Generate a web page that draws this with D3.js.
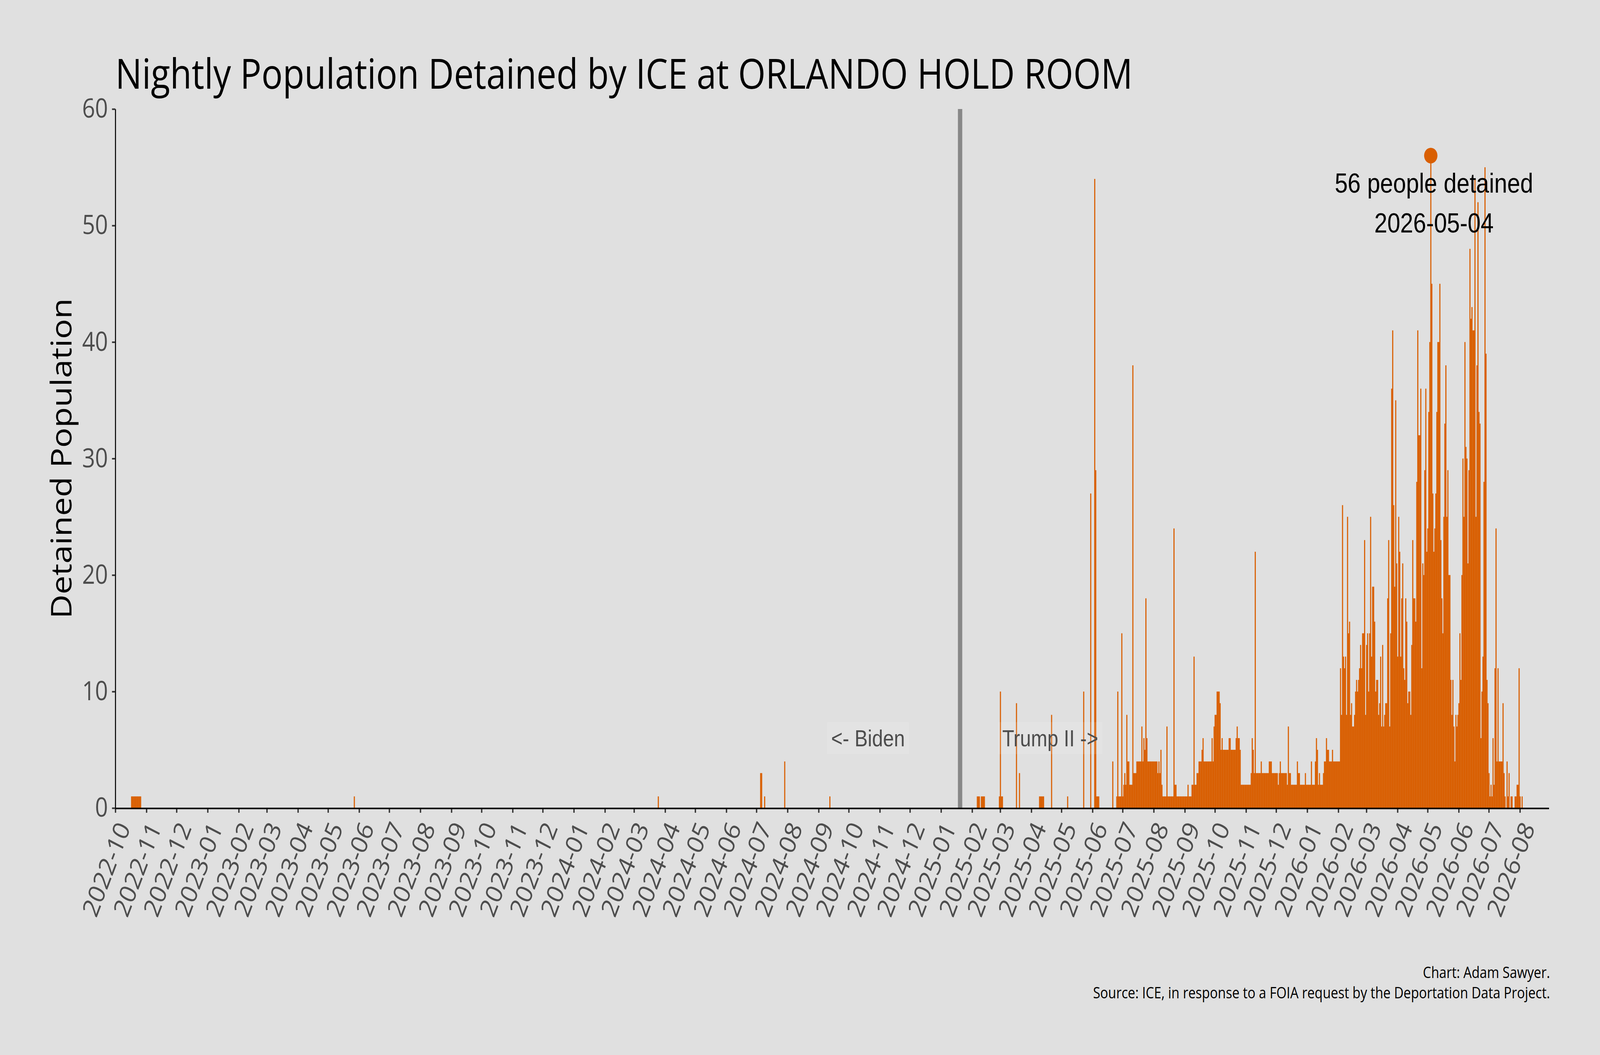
<!DOCTYPE html>
<html>
<head>
<meta charset="utf-8">
<script src="https://cdn.jsdelivr.net/npm/d3@7"></script>
<style>
  html, body { margin: 0; padding: 0; background: #e0e0e0; overflow: hidden; }
  svg { display: block; width: 100vw; height: 100vh; }
</style>
</head>
<body>
<svg id="chart"></svg>
<script>
const facility = "ORLANDO HOLD ROOM";
const regimeChange = "2025-01-20";

// scattered nights before the record turns daily
const earlyDates = [
  "2022-10-17", "2022-10-18", "2022-10-19", "2022-10-20", "2022-10-21",
  "2022-10-22", "2022-10-23", "2022-10-24", "2022-10-25", "2022-10-26",
  "2023-05-27", "2024-03-25", "2024-07-05", "2024-07-06", "2024-07-09",
  "2024-07-29", "2024-09-12",
  "2025-02-06", "2025-02-07", "2025-02-08", "2025-02-10", "2025-02-11",
  "2025-02-12", "2025-02-13", "2025-02-28", "2025-03-01", "2025-03-02",
  "2025-03-03", "2025-03-17", "2025-03-20", "2025-04-09", "2025-04-10",
  "2025-04-11", "2025-04-12", "2025-04-13", "2025-04-21", "2025-05-07",
  "2025-05-23", "2025-05-30"
];
const earlyValues = [
  1, 1, 1, 1, 1, 1, 1, 1, 1, 1,
  1, 1, 3, 3, 1, 4, 1,
  1, 1, 1, 1, 1, 1, 1, 1, 10, 1,
  1, 9, 3, 1, 1, 1, 1, 1, 8, 1,
  10, 27
];

// one value per night, from the first of each month
const jun2025 = [0,0,54,29,1,1,1,0,0,0,0,0,0,0,0,0,0,0,0,0,4,0,0,0,1,10,1,1,1,15];
const jul2025 = [1,2,3,2,8,4,4,2,2,2,38,3,3,3,4,4,4,4,4,7,4,6,5,18,6,4,4,4,4,4,4];
const aug2025 = [4,4,4,4,3,4,3,5,2,1,1,1,1,7,1,1,1,1,1,1,24,2,2,1,1,1,1,1,1,1,1];
const sep2025 = [1,1,1,2,1,1,1,2,2,13,2,2,3,3,4,4,4,5,6,4,4,4,4,4,4,4,4,6,4,7];
const oct2025 = [8,8,10,10,10,9,5,6,5,5,5,5,5,5,6,6,5,5,5,5,5,6,7,6,6,5,2,2,2,2,2];
const nov2025 = [2,2,2,2,2,3,6,5,3,22,3,3,3,3,3,4,3,3,3,3,3,3,3,4,4,4,3,3,3,3];
const dec2025 = [3,3,2,3,4,3,3,3,3,3,3,2,7,3,3,2,2,2,2,2,2,4,3,3,2,2,2,2,2,3,2];
const jan2026 = [2,2,2,2,4,2,2,2,4,6,5,2,3,2,2,2,3,4,4,6,5,5,4,4,4,5,4,4,4,4,4];
const feb2026 = [4,4,12,8,26,13,12,13,8,25,15,16,8,9,7,7,8,10,11,10,11,12,14,12,15,15,23,8];
const mar2026 = [14,15,10,15,25,13,19,19,16,10,11,11,8,9,13,7,14,7,8,9,9,18,23,7,15,36,41,26,19,35,21];
const apr2026 = [13,25,22,13,18,21,12,11,18,16,9,10,10,8,14,23,18,18,16,28,41,32,32,36,12,21,20,29,36,22];
const may2026 = [24,34,40,56,45,27,22,24,27,34,40,40,45,23,18,15,25,33,38,25,29,20,20,11,8,11,7,4,8,7,8];
const jun2026 = [9,15,11,20,30,25,40,31,30,21,29,48,42,43,41,41,54,25,38,52,34,33,6,10,13,28,55,39,11,9];
const jul2026 = [3,1,2,1,6,2,12,24,4,12,4,4,4,4,9,3,1,0,4,1,3,0,1,1,0,0,1,1,2,2,12];
const aug2026 = [1,0,1];

const monthStarts = ["2025-06","2025-07","2025-08","2025-09","2025-10","2025-11","2025-12",
  "2026-01","2026-02","2026-03","2026-04","2026-05","2026-06","2026-07","2026-08"];
const monthValues = [jun2025, jul2025, aug2025, sep2025, oct2025, nov2025, dec2025,
  jan2026, feb2026, mar2026, apr2026, may2026, jun2026, jul2026, aug2026];

const yTicks = [0, 10, 20, 30, 40, 50, 60];

const width = 4800, height = 2700;
const ORANGE = "#d95f02";
const UI = "'Segoe UI', 'Open Sans', sans-serif";
const ARIAL = "Arial, 'Liberation Sans', sans-serif";

const parseDay = d3.utcParse("%Y-%m-%d");
const parseMonth = d3.utcParse("%Y-%m");

const nights = earlyDates.map((d, i) => ({ date: parseDay(d), value: earlyValues[i] }));
monthStarts.forEach((m, k) => {
  const start = parseMonth(m);
  monthValues[k].forEach((v, i) => nights.push({ date: d3.utcDay.offset(start, i), value: v }));
});

const x = d3.scaleUtc()
  .domain([parseDay("2022-10-01"), parseDay("2026-08-30")])
  .range([346, 4647]);
const y = d3.scaleLinear().domain([0, 60]).range([2068, 279]);
const dayW = x(parseDay("2022-10-02")) - x(parseDay("2022-10-01"));

// the window may be narrower than 4800, so stretch the 4800x2700 frame to fill it
const svg = d3.select("#chart")
  .attr("viewBox", [0, 0, width, height])
  .attr("preserveAspectRatio", "none");

svg.append("rect").attr("width", width).attr("height", height).attr("fill", "#e0e0e0");

function fitWidth(sel, target) {
  const w = sel.node().getComputedTextLength();
  sel.attr("font-size", parseFloat(sel.attr("font-size")) * target / w);
  return sel;
}

// inauguration line
svg.append("rect")
  .attr("x", x(parseDay(regimeChange)) - 6.5)
  .attr("width", 13)
  .attr("y", y(60))
  .attr("height", y(0) - y(60))
  .attr("fill", "#888888");

// nightly bars
svg.append("g")
  .selectAll("rect")
  .data(nights.filter((d) => d.value > 0))
  .join("rect")
  .attr("x", (d) => x(d.date) - 1)
  .attr("width", dayW + 0.3)
  .attr("y", (d) => y(d.value))
  .attr("height", (d) => y(0) - y(d.value))
  .attr("fill", ORANGE);

// x axis
const xAxisG = svg.append("g")
  .attr("transform", `translate(0,${y(0) + 3})`)
  .call(
    d3.axisBottom(x)
      .ticks(d3.utcMonth.every(1))
      .tickFormat(d3.utcFormat("%Y-%m"))
      .tickSize(9)
      .tickSizeOuter(0)
  );
xAxisG.select(".domain").remove();
xAxisG.selectAll(".tick line").attr("stroke", "#333").attr("stroke-width", 4);
xAxisG.selectAll(".tick text")
  .attr("x", 0).attr("y", 0).attr("dy", 0)
  .attr("text-anchor", "end")
  .attr("transform", "translate(46,47) rotate(-66)")
  .attr("fill", "#4d4d4d")
  .attr("font-family", UI)
  .attr("font-size", 68);

svg.append("line")
  .attr("x1", x.range()[0] - 1).attr("x2", x.range()[1])
  .attr("y1", y(0) + 1).attr("y2", y(0) + 1)
  .attr("stroke", "#000").attr("stroke-width", 4);

// y axis
const yAxisG = svg.append("g")
  .attr("transform", `translate(${x.range()[0]},0)`)
  .call(d3.axisLeft(y).tickValues(yTicks).tickSize(10).tickSizeOuter(0).tickPadding(12));
yAxisG.select(".domain").attr("stroke", "#000").attr("stroke-width", 3);
yAxisG.selectAll(".tick line").attr("stroke", "#333").attr("stroke-width", 4);
yAxisG.selectAll(".tick text")
  .attr("fill", "#4d4d4d")
  .attr("font-family", UI)
  .attr("font-size", 68);

// regime labels
function regimeLabel(text, date, anchor) {
  const g = svg.append("g");
  const box = g.append("rect").attr("fill", "#ffffff").attr("fill-opacity", 0.12);
  const t = g.append("text")
    .attr("x", x(parseDay(date)))
    .attr("y", y(6))
    .attr("dy", "0.35em")
    .attr("text-anchor", anchor)
    .attr("font-family", ARIAL)
    .attr("font-size", 59)
    .attr("fill", "#4d4d4d")
    .text(text);
  const b = t.node().getBBox();
  box.attr("x", b.x - 12).attr("width", b.width + 24)
    .attr("y", y(6) - 41).attr("height", 82);
}
regimeLabel("<- Biden", "2024-11-26", "end");
regimeLabel("Trump II ->", "2025-03-03", "start");

// peak annotation
const peak = d3.greatest(nights, (d) => d.value);
svg.append("circle")
  .attr("cx", x(peak.date) + 0.5)
  .attr("cy", y(peak.value))
  .attr("r", 20)
  .attr("fill", ORANGE);
const peakText = svg.append("text")
  .attr("text-anchor", "middle")
  .attr("font-family", ARIAL)
  .attr("font-size", 70)
  .attr("fill", "#000");
peakText.append("tspan")
  .attr("x", x(peak.date) + 10)
  .attr("y", y(peak.value) + 95)
  .text(`${peak.value} people detained`);
peakText.append("tspan")
  .attr("x", x(peak.date) + 10)
  .attr("y", y(peak.value) + 197)
  .text(d3.utcFormat("%Y-%m-%d")(peak.date));

// title and axis title
const title = svg.append("text")
  .attr("x", 346)
  .attr("y", 227)
  .attr("font-family", UI)
  .attr("font-size", 110)
  .attr("fill", "#000")
  .text(`Nightly Population Detained by ICE at ${facility}`);
fitWidth(title, 3052);

const yTitle = svg.append("text")
  .attr("transform", `translate(215,${(y(0) + y(60)) / 2}) rotate(-90)`)
  .attr("text-anchor", "middle")
  .attr("font-family", UI)
  .attr("font-size", 90)
  .attr("fill", "#000")
  .text("Detained Population");
fitWidth(yTitle, 820);

// caption
const source = svg.append("text")
  .attr("x", 4650)
  .attr("y", 2555)
  .attr("text-anchor", "end")
  .attr("font-family", UI)
  .attr("font-size", 40)
  .attr("fill", "#000")
  .text("Source: ICE, in response to a FOIA request by the Deportation Data Project.");
fitWidth(source, 1371);
svg.append("text")
  .attr("x", 4650)
  .attr("y", 2503)
  .attr("text-anchor", "end")
  .attr("font-family", UI)
  .attr("font-size", source.attr("font-size"))
  .attr("fill", "#000")
  .text("Chart: Adam Sawyer.");
</script>
</body>
</html>
